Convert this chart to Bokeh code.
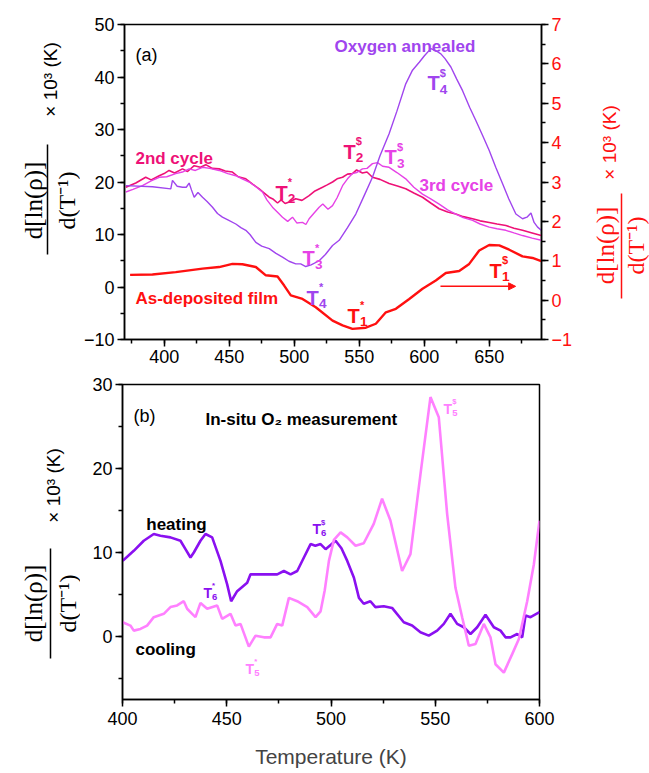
import numpy as np
from bokeh.plotting import figure
from bokeh.models import Range1d, LinearAxis, SingleIntervalTicker, Label, Arrow, NormalHead, Spacer
from bokeh.layouts import column, row
from bokeh.core.properties import value
from bokeh.embed import file_html
from bokeh.resources import INLINE

FONT = "Liberation Sans"
SERIF = "Liberation Serif"

RED = "#FF1010"
PINK2 = "#EE1177"
MAG3 = "#E642E6"
PURP = "#A045EE"
HEAT = "#8A10F0"
COOL = "#FF80FF"

# ---------------- panel (a) data ----------------
asdep_T = [373.8, 391, 408.9, 429.5, 442.3, 452.5, 460.2, 470.5, 478.2, 487.2, 492.3, 497.4, 506.4,
           516.6, 529.5, 537.2, 544.8, 555.1, 562.8, 570.5, 578.2, 588.5, 598.7, 608.9, 616.6, 626.9,
           634.6, 642.3, 650, 657.7, 665.4, 675.6, 683.3, 690]
asdep_v = [0.64, 0.65, 0.71, 0.80, 0.84, 0.92, 0.91, 0.84, 0.63, 0.60, 0.37, 0.12, 0.03,
           -0.18, -0.52, -0.64, -0.73, -0.70, -0.60, -0.31, -0.22, 0.03, 0.29, 0.50, 0.69, 0.74,
           0.92, 1.26, 1.40, 1.39, 1.28, 1.11, 1.07, 0.99]

cyc2_T = [370.5, 378.2, 385.8, 390, 396.2, 400, 403.8, 408, 414.1, 418, 423.1, 428, 432, 437, 442.3,
          447, 452.5, 457, 462.8, 468, 473.1, 477, 480.8, 484, 487.2, 490, 493, 496.2, 501.2, 506,
          511.5, 516, 521.8, 525, 529.5, 533, 537.2, 541, 544.8, 548, 552.5, 556, 560.2, 566, 573,
          580, 585.8, 592, 598.7, 605, 611.5, 618, 624.3, 630, 637.2, 643, 650, 656, 662.8, 669,
          675.6, 683, 690]
cyc2_v = [19.0, 19.8, 20.9, 20.4, 21.2, 21.6, 22.2, 21.7, 22.5, 22.0, 23.1, 22.8, 23.3, 22.6, 22.5,
          22.1, 21.9, 21.0, 20.6, 19.6, 18.7, 17.9, 17.1, 16.7, 16.0, 16.6, 15.9, 16.2, 16.8, 16.5,
          17.4, 18.3, 19.0, 19.4, 20.0, 20.6, 20.9, 21.5, 21.6, 22.3, 21.7, 21.9, 20.9, 20.5, 19.7,
          19.2, 18.7, 17.9, 17.1, 16.0, 14.9, 14.3, 13.9, 13.4, 13.0, 12.6, 12.3, 12.0, 11.7, 11.2,
          10.8, 10.3, 9.8]

cyc3_T = [370.5, 376, 383.3, 390, 396.2, 402, 408.9, 414, 419.2, 424, 429.5, 435, 442.3, 449, 455.1,
          460, 465.4, 470, 475.6, 479, 483.3, 487, 491, 495, 498.7, 502, 506.4, 509, 511.5, 515,
          519.2, 522, 526, 529.5, 533, 537.2, 541, 544.8, 548, 552.5, 556, 560.2, 564.1, 568, 573,
          579, 585.8, 592, 598.7, 605, 611.5, 618, 624.3, 630, 637.2, 643, 650, 656, 662.8, 669,
          675.6, 683, 690]
cyc3_v = [18.1, 18.6, 19.3, 20.2, 20.9, 21.0, 21.6, 21.9, 22.5, 22.2, 22.8, 22.6, 22.2, 21.6, 21.2,
          20.6, 20.0, 19.2, 18.1, 16.6, 15.2, 14.3, 13.3, 12.5, 13.3, 12.2, 12.3, 11.9, 13.0, 14.0,
          15.2, 15.8, 14.8, 15.5, 17.0, 19.3, 20.6, 21.6, 21.8, 22.5, 22.6, 23.5, 23.7, 23.0, 22.8,
          21.8, 20.6, 19.0, 17.7, 16.8, 15.8, 14.7, 13.9, 13.2, 12.7, 12.0, 11.4, 11.1, 10.8, 10.3,
          9.8, 9.3, 8.9]

oxy_T = [370.5, 391, 405.1, 406.4, 410, 414.1, 417, 419.2, 421, 423.1, 426, 429.5, 433, 437.2, 441,
         444.8, 449, 455.1, 459, 462.8, 466, 470.5, 475, 480.8, 486, 491, 496, 501.2, 505, 508.9,
         513, 519.2, 524, 529.5, 534.6, 541, 547.4, 554, 560.2, 566, 573, 579, 585.8, 591, 596.2,
         600, 605.1, 609, 612.8, 616, 620.5, 625, 629.5, 635, 639.7, 645, 650, 655, 660.2, 665,
         670.5, 675.6, 679, 682.1, 684.5, 687.2, 690]
oxy_v = [19.3, 19.1, 18.7, 20.3, 19.2, 19.0, 19.0, 19.8, 18.5, 17.1, 18.0, 17.1, 16.3, 15.2, 14.0,
         13.3, 12.8, 12.0, 11.3, 10.8, 10.0, 8.5, 7.8, 7.3, 6.4, 5.7, 4.9, 4.4, 4.4, 3.9,
         4.2, 5.0, 6.2, 7.9, 8.9, 11.3, 13.9, 17.5, 20.9, 25.0, 29.2, 33.5, 38.7, 41.3, 42.8,
         44.0, 45.4, 45.0, 44.4, 43.5, 41.9, 39.6, 37.4, 34.2, 31.7, 28.8, 26.0, 22.8, 19.7, 16.8,
         13.9, 13.0, 13.3, 14.1, 12.3, 11.4, 10.8]

# ---------------- panel (b) data ----------------
heat_T = [400.1, 405.4, 410.2, 415, 418.2, 423, 427.8, 430.2, 432.6, 434.2, 437.4, 439.8, 443, 447,
          450.2, 452.1, 455, 459.8, 461.4, 467.8, 474.2, 477.4, 480.6, 483.8, 487, 490.2, 492.5, 495,
          497.4, 499.8, 502.2, 505, 507.8, 511, 513.4, 515.7, 518.9, 521.3, 525.3, 529.3, 534.9,
          538.9, 542.9, 546.9, 550.9, 554.1, 557.3, 560.5, 563.7, 566.9, 570.1, 574.1, 578.1,
          581.3, 583.7, 586.1, 589.3, 591.7, 593.3, 595.7, 600]
heat_v = [9.0, 10.2, 11.4, 12.2, 12.0, 11.8, 11.4, 10.4, 9.4, 10.0, 11.4, 12.2, 11.8, 9.0,
          6.2, 4.2, 5.4, 6.4, 7.4, 7.4, 7.4, 7.8, 7.4, 7.8, 9.4, 11.0, 10.8, 11.0,
          10.4, 10.9, 11.4, 10.5, 9.0, 7.0, 4.6, 3.9, 4.2, 3.5, 3.6, 3.4, 1.7,
          1.3, 0.5, 0.1, 0.7, 1.5, 2.7, 1.5, 1.1, 0.3, 1.1, 2.6, 1.1,
          0.7, -0.1, -0.1, 0.3, -0.1, 2.5, 2.3, 2.9]

cool_T = [400.1, 403.8, 405.4, 408.6, 411.8, 415, 419.8, 423, 426.2, 429.4, 431, 433.4, 435, 437.4,
          440.6, 445.4, 447.8, 451.8, 454.2, 456.6, 460.6, 463.8, 467.8, 471, 474.2, 476.6, 479.8,
          483.8, 488.6, 492.6, 495, 497, 499, 501.4, 504.6, 507.8, 511.8, 515.7, 520.5, 524.5,
          528.5, 534.1, 538.1, 542.9, 547.7, 551.7, 555.7, 559.7, 562.9, 566.1, 569.3, 573.3,
          576.5, 578.9, 582.9, 586.9, 590.1, 594.1, 597.3, 600]
cool_v = [1.7, 1.3, 0.7, 0.9, 1.3, 2.3, 2.7, 3.5, 3.7, 4.2, 3.3, 2.7, 2.3, 4.0,
          3.3, 3.7, 2.1, 2.7, 1.3, 1.5, -1.2, 0.1, -0.1, -0.1, 1.5, 1.3, 4.6,
          4.2, 3.5, 2.3, 3.0, 5.5, 9.0, 11.5, 12.4, 11.8, 10.8, 11.1, 13.4, 16.4,
          13.8, 7.8, 9.8, 19.3, 28.5, 26.1, 14.6, 5.8, 2.3, -1.1, -0.9, 1.5,
          -0.1, -3.3, -4.3, -2.1, -0.3, 4.2, 8.6, 13.8]

ylabel_num = "d[ln(ρ)]"
ylabel_den = "d(T⁻¹)"
ylabel_unit = "× 10³ (K)"

xticks_step = 50


def style_axis(ax, color="black"):
    ax.major_tick_out = 7
    ax.major_tick_in = 0
    ax.minor_tick_out = 4
    ax.minor_tick_in = 0
    ax.axis_line_width = 1.5
    ax.major_tick_line_width = 1.5
    ax.minor_tick_line_width = 1.5
    ax.axis_line_color = "black"
    ax.major_tick_line_color = "black"
    ax.minor_tick_line_color = "black"
    ax.major_label_text_font = FONT
    ax.major_label_text_font_size = "18px"
    ax.major_label_text_color = color
    ax.major_label_standoff = 3


def base_fig(xr, yr, top, bottom):
    p = figure(frame_width=417, frame_height=315, x_range=xr, y_range=yr,
               output_backend="svg", toolbar_location=None,
               min_border_left=42, min_border_right=30,
               min_border_top=top, min_border_bottom=bottom)
    p.xgrid.visible = False
    p.ygrid.visible = False
    p.outline_line_color = "black"
    p.outline_line_width = 1.5
    p.outline_line_alpha = 1.0
    p.background_fill_color = "white"
    p.border_fill_color = "white"
    p.xaxis.ticker = SingleIntervalTicker(interval=xticks_step, num_minor_ticks=2)
    p.yaxis.ticker = SingleIntervalTicker(interval=10, num_minor_ticks=2)
    style_axis(p.xaxis[0])
    style_axis(p.yaxis[0])
    return p


def label_fig(w, h):
    p = figure(frame_width=w, frame_height=h, x_range=Range1d(0, w), y_range=Range1d(0, h),
               x_axis_type=None, y_axis_type=None, output_backend="svg", toolbar_location=None,
               min_border=0)
    p.xgrid.visible = False
    p.ygrid.visible = False
    p.outline_line_color = None
    p.background_fill_color = "white"
    p.border_fill_color = "white"
    return p


def txt(p, x, y, s, color, size, style="bold", yr="default"):
    p.add_layout(Label(x=x, y=y, text=s, text_color=color, text_font=FONT,
                       text_font_size=f"{size}px", text_font_style=style,
                       text_align="left", text_baseline="alphabetic", y_range_name=yr))


def tlab(p, x, y, sub, sup, color, fs):
    p.add_layout(Label(x=x, y=y, text="T", text_color=color, text_font=FONT,
                       text_font_size=f"{fs}px", text_font_style="bold",
                       text_align="left", text_baseline="alphabetic"))
    p.add_layout(Label(x=x, y=y, x_offset=0.62 * fs, y_offset=-0.32 * fs, text=sub,
                       text_color=color, text_font=FONT, text_font_size=f"{0.68 * fs:.1f}px",
                       text_font_style="bold", text_align="left", text_baseline="alphabetic"))
    p.add_layout(Label(x=x, y=y, x_offset=0.62 * fs, y_offset=0.82 * fs, text=sup,
                       text_color=color, text_font=FONT, text_font_size=f"{0.55 * fs:.1f}px",
                       text_font_style="bold", text_align="left", text_baseline="top"))


def rot_text(p, x, y, s, font, size, color):
    p.text(x=[x], y=[y], text=[s], angle=np.pi / 2, text_font=value(font),
           text_font_size=size, text_align="center", text_baseline="middle", text_color=color)


def frac(p, xn, xb, xd, yc, yb0, yb1, xk, yk, color):
    rot_text(p, xn, yc, ylabel_num, SERIF, "25px", color)
    rot_text(p, xd, yc, ylabel_den, SERIF, "24px", color)
    rot_text(p, xk, yk, ylabel_unit, FONT, "19px", color)
    p.segment(x0=[xb], y0=[yb0], x1=[xb], y1=[yb1], line_color=color, line_width=1.5)


# ---------------- panel (a) ----------------
pa = base_fig(Range1d(369.5, 690.2), Range1d(-10, 50), 24, 32)
pa.extra_y_ranges = {"right": Range1d(-1, 7)}
ax_r = LinearAxis(y_range_name="right", ticker=SingleIntervalTicker(interval=1, num_minor_ticks=2))
style_axis(ax_r, RED)
pa.add_layout(ax_r, "right")

pa.line(asdep_T, asdep_v, line_color=RED, line_width=2.4, y_range_name="right")
pa.line(cyc2_T, cyc2_v, line_color=PINK2, line_width=1.6)
pa.line(cyc3_T, cyc3_v, line_color=MAG3, line_width=1.4)
pa.line(oxy_T, oxy_v, line_color=PURP, line_width=1.4)

pa.add_layout(Arrow(x_start=612.5, y_start=0.35, x_end=670.3, y_end=0.35, y_range_name="right",
                    line_color=RED, line_width=1.5,
                    end=NormalHead(size=7, fill_color=RED, line_color=RED)))

txt(pa, 377.9, 44.1, "(a)", "black", 18, style="normal")
txt(pa, 531.0, 45.9, "Oxygen annealed", PURP, 17)
txt(pa, 377.9, 24.5, "2nd cycle", PINK2, 17)
txt(pa, 596.4, 19.3, "3rd cycle", MAG3, 17)
txt(pa, 377.9, -2.2, "As-deposited film", RED, 17)

tlab(pa, 485.6, 18.0, "2", "*", PINK2, 20)
tlab(pa, 537.9, 25.8, "2", "$", PINK2, 20)
tlab(pa, 569.5, 24.7, "3", "$", MAG3, 20)
tlab(pa, 506.4, 5.43, "3", "*", MAG3, 20)
tlab(pa, 509.5, -2.0, "4", "*", PURP, 20)
tlab(pa, 541.0, -5.43, "1", "*", RED, 20)
tlab(pa, 650.2, 3.14, "1", "$", RED, 20)
tlab(pa, 602.5, 38.8, "4", "$", PURP, 20)

# ---------------- panel (b) ----------------
pb = base_fig(Range1d(400, 600), Range1d(-7.5, 30), 13, 74)
pb.xaxis.axis_label = "Temperature (K)"
pb.xaxis.axis_label_text_font = FONT
pb.xaxis.axis_label_text_font_size = "21px"
pb.xaxis.axis_label_text_font_style = "normal"
pb.xaxis.axis_label_standoff = 17
pb.xaxis.major_label_standoff = 5

pb.line(heat_T, heat_v, line_color=HEAT, line_width=2.6)
pb.line(cool_T, cool_v, line_color=COOL, line_width=2.6)

txt(pb, 405.3, 26.2, "(b)", "black", 18, style="normal")
txt(pb, 439.8, 25.8, "In-situ O₂ measurement", "black", 17)
txt(pb, 411.4, 13.3, "heating", "black", 17)
txt(pb, 406.2, -1.6, "cooling", "black", 17)

tlab(pb, 491.1, 12.8, "6", "$", HEAT, 14)
tlab(pb, 438.8, 5.2, "6", "*", HEAT, 14)
tlab(pb, 459.0, -3.85, "5", "*", COOL, 14)
tlab(pb, 554.0, 27.1, "5", "$", COOL, 14)

# ---------------- axis title strips ----------------
HA = 371
HB = 402
labLa = label_fig(80, HA)
frac(labLa, 33, 47, 66, HA - 176, HA - 120, HA - 230, 50, HA - 55, "black")
labLb = label_fig(80, HB)
frac(labLb, 33, 50, 67, HB - (590 - HA), HB - (535 - HA), HB - (645 - HA), 53, HB - (472 - HA),
     "black")
labR = label_fig(80, HA)
frac(labR, 30, 46, 60, HA - 221, HA - 169, HA - 274, 34, HA - 118, RED)

layout = column(row(labLa, pa, labR, spacing=0),
                row(labLb, pb, Spacer(width=80, height=HB), spacing=0), spacing=0)
open("out.html", "w").write(file_html(layout, INLINE))
